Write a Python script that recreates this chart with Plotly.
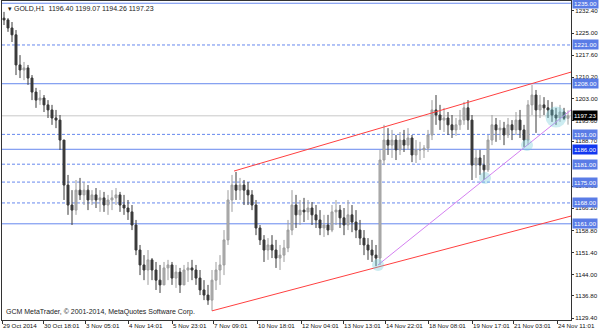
import plotly.graph_objects as go

# ---------------- data (prices) ----------------
highs = [1232.1,1230.0,1228.7,1226.0,1217.6,1215.3,1214.3,1210.9,1206.6,1205.9,
1204.2,1202.5,1200.9,1199.2,1197.5,1189.1,1177.4,1172.3,1175.7,1176.4,
1175.0,1174.0,1172.3,1173.0,1172.3,1171.7,1170.7,1172.3,1173.0,1171.7,
1170.7,1169.0,1167.3,1162.3,1153.9,1150.5,1152.2,1149.5,1148.2,1147.2,
1148.2,1148.9,1148.2,1147.2,1146.2,1147.2,1148.2,1148.9,1147.2,1145.5,
1142.1,1140.5,1145.5,1148.2,1150.5,1158.9,1172.3,1177.4,1178.4,1176.4,
1175.7,1175.0,1172.3,1169.0,1160.6,1157.2,1156.2,1157.2,1155.6,1153.9,
1155.6,1162.3,1172.3,1170.7,1169.0,1169.7,1169.0,1168.3,1167.3,1165.6,
1164.0,1164.0,1167.3,1169.0,1167.3,1166.3,1169.0,1167.3,1165.6,1162.3,
1158.9,1156.2,1155.6,1153.9,1185.8,1194.2,1193.1,1192.5,1190.8,1191.8,
1192.5,1193.1,1190.8,1189.1,1188.5,1187.4,1192.5,1202.5,1204.2,1200.9,
1199.9,1198.5,1197.5,1196.5,1199.2,1201.9,1202.5,1197.5,1185.8,1185.8,
1184.1,1190.8,1197.5,1196.5,1195.8,1195.2,1196.5,1195.8,1198.5,1199.2,
1194.2,1202.5,1207.6,1205.9,1204.2,1203.5,1202.5,1201.9,1199.9,1200.9,
1199.9,1199.07]

lows = [1227.7,1225.4,1222.0,1210.9,1209.9,1209.2,1207.6,1202.5,1199.9,1200.9,
1198.5,1196.5,1194.2,1193.1,1185.8,1169.0,1164.0,1160.6,1164.0,1169.0,
1167.3,1165.6,1167.3,1166.3,1165.0,1165.0,1164.0,1165.6,1167.3,1165.0,
1164.0,1162.3,1158.9,1150.5,1143.8,1142.1,1140.5,1142.1,1138.8,1137.8,
1140.5,1142.1,1140.5,1139.5,1137.8,1140.5,1141.5,1142.1,1140.5,1137.1,
1135.4,1133.8,1131.8,1138.8,1140.5,1143.8,1153.9,1165.0,1169.0,1169.0,
1167.3,1167.3,1165.6,1157.2,1153.9,1148.2,1148.9,1149.5,1146.2,1145.5,
1148.2,1151.5,1157.2,1159.6,1160.6,1161.6,1162.3,1160.6,1159.6,1157.2,
1156.6,1157.2,1158.2,1160.6,1159.6,1157.2,1158.9,1158.2,1156.2,1153.9,
1150.5,1148.9,1148.2,1146.8,1147.2,1180.7,1184.1,1183.1,1182.4,1184.1,
1185.1,1185.8,1181.7,1181.4,1182.4,1183.1,1185.1,1189.1,1194.2,1192.5,
1191.8,1190.8,1189.8,1190.5,1192.5,1194.2,1192.5,1175.7,1176.4,1177.4,
1175.7,1178.4,1187.4,1188.5,1189.1,1187.4,1189.8,1189.1,1190.8,1189.8,
1186.8,1187.4,1197.5,1191.5,1196.5,1197.5,1196.5,1195.2,1194.2,1195.2,
1195.8,1194.26]

closes = [1229.4,1226.7,1224.4,1214.3,1212.6,1213.3,1209.9,1205.2,1202.5,1203.2,
1200.9,1199.2,1196.5,1195.8,1189.1,1174.0,1167.3,1165.6,1172.3,1170.7,
1172.3,1169.0,1170.7,1169.0,1169.7,1167.3,1169.0,1169.7,1170.7,1167.3,
1166.3,1165.0,1160.6,1152.2,1147.2,1145.5,1148.9,1145.5,1142.1,1140.5,
1146.2,1147.2,1142.8,1144.8,1140.5,1145.5,1146.2,1145.5,1142.8,1138.8,
1137.1,1135.4,1142.1,1145.5,1147.2,1155.6,1169.0,1174.0,1172.3,1174.0,
1172.3,1170.7,1167.3,1159.6,1155.6,1152.2,1153.9,1152.2,1149.5,1150.5,
1152.9,1158.9,1167.3,1164.0,1165.6,1165.0,1166.3,1164.0,1162.3,1159.6,
1160.6,1158.9,1165.0,1165.6,1163.0,1160.6,1164.0,1161.6,1158.9,1156.2,
1153.9,1152.2,1150.5,1149.5,1182.4,1189.1,1187.4,1189.1,1185.8,1189.1,
1187.4,1189.8,1184.1,1185.8,1185.8,1186.4,1190.8,1199.2,1197.5,1195.8,
1196.5,1194.2,1192.5,1194.2,1195.8,1199.9,1195.8,1180.7,1183.1,1180.7,
1179.1,1189.1,1194.2,1192.5,1193.1,1190.8,1194.2,1192.5,1195.8,1192.5,
1189.1,1200.9,1204.2,1199.2,1200.9,1199.9,1199.2,1197.5,1196.5,1198.5,
1196.4,1197.23]
first_open = 1230.0

# support / resistance levels
solid_levels = [1235.00, 1208.00, 1186.00, 1161.00]
dashed_levels = [1221.00, 1191.00, 1181.00, 1175.00, 1168.00]
last_price = 1197.23

# trend lines: (bar index, price) end points
upper_channel_x = [57.5, 141.75]
upper_channel_y = [1178.7, 1211.9]
lower_channel_x = [52.0, 141.75]
lower_channel_y = [1131.8, 1163.6]
support_line_x = [93.5, 141.75]
support_line_y = [1147.2, 1199.2]

# touch-point circles
touch_x = [93.5, 120.25, 130.75, 138.0]
touch_y = [1147.2, 1176.4, 1187.4, 1196.8]
touch_size = [12, 12, 12, 21]

# axes
y_ticks = [1232.40, 1225.00, 1217.60, 1210.20, 1203.00, 1195.60, 1188.70,
           1173.60, 1166.20, 1158.80, 1151.40, 1144.00, 1136.80, 1129.40]
x_tick_idx = [-0.5, 9.75, 20.25, 31, 42, 52.25, 63.25, 74.25, 84.75, 95.25,
              106, 117, 127.25, 138.25]
x_tick_text = ['29 Oct 2014', '30 Oct 18:01', '3 Nov 05:01', '4 Nov 14:01',
               '5 Nov 23:01', '7 Nov 09:01', '10 Nov 18:01', '12 Nov 04:01',
               '13 Nov 13:01', '14 Nov 22:01', '18 Nov 08:01', '19 Nov 17:01',
               '21 Nov 03:01', '24 Nov 11:01']

# ---------------- build ----------------
n = len(closes)
xs = list(range(n))
opens = [first_open] + closes[:-1]
hi = [max(h, o, c) for h, o, c in zip(highs, opens, closes)]
lo = [min(l, o, c) for l, o, c in zip(lows, opens, closes)]

FONT = "Liberation Sans"
AX_FS = 6.2
LEVEL_COLOR = "#6688ee"

fig = go.Figure()

fig.add_trace(go.Candlestick(
    x=xs, open=opens, high=hi, low=lo, close=closes,
    increasing=dict(line=dict(color="#9c9c9c", width=1), fillcolor="#b4b4b4"),
    decreasing=dict(line=dict(color="#3a3a3a", width=1), fillcolor="#3a3a3a"),
    whiskerwidth=0, showlegend=False, hoverinfo="skip"))

for xx, yy, col in [(upper_channel_x, upper_channel_y, "#ff4040"),
                    (lower_channel_x, lower_channel_y, "#ff4040"),
                    (support_line_x, support_line_y, "#d480f0")]:
    fig.add_trace(go.Scatter(x=xx, y=yy, mode="lines",
                             line=dict(color=col, width=1),
                             showlegend=False, hoverinfo="skip"))

fig.add_trace(go.Scatter(x=touch_x, y=touch_y, mode="markers",
                         marker=dict(size=touch_size, color="rgba(110,200,215,0.5)",
                                     line=dict(width=0)),
                         showlegend=False, hoverinfo="skip"))

shapes = []
for lv in solid_levels:
    shapes.append(dict(type="line", xref="paper", x0=0, x1=1, yref="y", y0=lv, y1=lv,
                       line=dict(color=LEVEL_COLOR, width=1), layer="below"))
for lv in dashed_levels:
    shapes.append(dict(type="line", xref="paper", x0=0, x1=1, yref="y", y0=lv, y1=lv,
                       line=dict(color=LEVEL_COLOR, width=1, dash="3px,2px"), layer="below"))
shapes.append(dict(type="line", xref="paper", x0=0, x1=1, yref="y", y0=last_price,
                   y1=last_price, line=dict(color="#c8c8c8", width=1), layer="below"))

annotations = []
for lv in sorted(solid_levels + dashed_levels, reverse=True):
    bg = "#1238f0" if lv == 1186.00 else "#5a7ce6"
    annotations.append(dict(xref="paper", x=1, xanchor="left", xshift=1,
                            yref="y", y=lv, yanchor="middle", text=f"{lv:.2f}",
                            showarrow=False, bgcolor=bg, borderpad=1,
                            font=dict(family=FONT, size=AX_FS, color="white")))
annotations.append(dict(xref="paper", x=1, xanchor="left", xshift=1,
                        yref="y", y=last_price, yanchor="middle", text=f"{last_price:.2f}",
                        showarrow=False, bgcolor="#000000", borderpad=1,
                        font=dict(family=FONT, size=AX_FS, color="white")))
annotations.append(dict(xref="paper", x=0, xanchor="left", xshift=4,
                        yref="paper", y=1, yanchor="top", yshift=-2,
                        text="▾ GOLD,H1  1196.40 1199.07 1194.26 1197.23",
                        showarrow=False, font=dict(family=FONT, size=7, color="#222")))
annotations.append(dict(xref="paper", x=0, xanchor="left", xshift=2,
                        yref="paper", y=0, yanchor="bottom", yshift=2,
                        text="GCM MetaTrader, © 2001-2014, MetaQuotes Software Corp.",
                        showarrow=False, font=dict(family=FONT, size=7, color="#222")))

fig.update_layout(
    width=600, height=333,
    margin=dict(l=2, r=29, t=1, b=13, autoexpand=False),
    paper_bgcolor="white", plot_bgcolor="white",
    shapes=shapes, annotations=annotations,
    xaxis=dict(range=[-0.5, 141.75], tickvals=x_tick_idx, ticktext=x_tick_text,
               tickangle=0, automargin=False,
               ticks="outside", ticklen=3, tickcolor="#333",
               ticklabelposition="outside right",
               showgrid=False, zeroline=False, showline=True, linecolor="#333",
               mirror=True, rangeslider=dict(visible=False),
               tickfont=dict(family=FONT, size=AX_FS, color="#111")),
    yaxis=dict(range=[1128.73, 1235.75], side="right", tickvals=y_ticks,
               ticktext=[f"{v:.2f}" for v in y_ticks], automargin=False,
               ticks="outside", ticklen=2, tickcolor="#333",
               showgrid=False, zeroline=False, showline=True, linecolor="#333",
               mirror=True, tickfont=dict(family=FONT, size=AX_FS, color="#111")),
)

fig.write_html("out.html")
